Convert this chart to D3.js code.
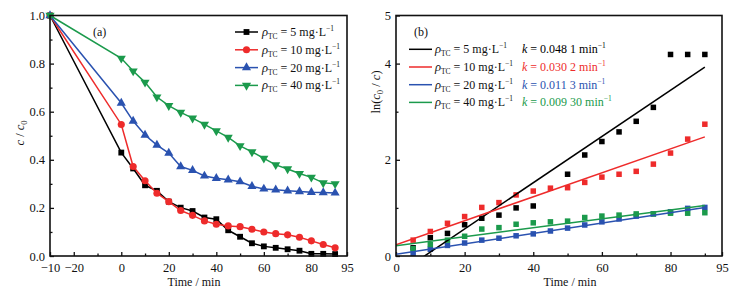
<!DOCTYPE html>
<html>
<head>
<meta charset="utf-8">
<script src="https://cdn.jsdelivr.net/npm/d3@7"></script>
<style>
  body { margin: 0; background: #fff; }
  svg text { font-family: 'Liberation Serif', 'Times New Roman', serif; fill: #111; }
</style>
</head>
<body>
<svg id="chart" width="750" height="294" font-family="Liberation Serif, serif"></svg>
<script>
// --- data ---
var concs = [5, 10, 20, 40];
var colors = ['#000000', '#ee2b2b', '#2a52b0', '#1b9a4c'];

// panel (a): c / c0 vs time, first point sits at the left edge of the axis
var timeA = [-30, 0, 5, 10, 15, 20, 25, 30, 35, 40, 45, 50, 55, 60, 65, 70, 75, 80, 85, 90];
var c5  = [1.0, 0.430, 0.364, 0.294, 0.271, 0.226, 0.201, 0.187, 0.160, 0.153, 0.107, 0.080, 0.053, 0.040, 0.034, 0.028, 0.022, 0.009, 0.009, 0.008];
var c10 = [1.0, 0.547, 0.372, 0.313, 0.261, 0.226, 0.189, 0.169, 0.146, 0.132, 0.125, 0.122, 0.111, 0.100, 0.093, 0.088, 0.078, 0.063, 0.048, 0.034];
var c20 = [1.0, 0.636, 0.561, 0.503, 0.461, 0.428, 0.372, 0.356, 0.333, 0.323, 0.317, 0.309, 0.290, 0.279, 0.275, 0.271, 0.268, 0.265, 0.264, 0.262];
var c40 = [1.0, 0.822, 0.769, 0.722, 0.661, 0.625, 0.597, 0.573, 0.547, 0.520, 0.493, 0.458, 0.433, 0.406, 0.379, 0.362, 0.343, 0.327, 0.304, 0.300];
var xTicksA = [-30, -20, 0, 20, 40, 60, 80, 95];
var xTickLabelsA = ['\u221210', '\u221220', '0', '20', '40', '60', '80', '95'];

// panel (b): ln(c0 / c) vs time
var timeB = [5, 10, 15, 20, 25, 30, 35, 40, 45, 50, 55, 60, 65, 70, 75, 80, 85, 90];
var ln5  = [0.17, 0.38, 0.47, 0.65, 0.785, 0.85, 1.00, 1.04, null, 1.70, 2.10, 2.38, 2.58, 2.80, 3.09, 4.19, 4.19, 4.19];
var ln10 = [0.33, 0.51, 0.68, 0.82, 1.01, 1.11, 1.27, 1.35, 1.41, 1.42, 1.53, 1.64, 1.70, 1.76, 1.91, 2.14, 2.43, 2.74];
var ln20 = [0.055, 0.14, 0.22, 0.27, 0.33, 0.37, 0.42, 0.46, 0.52, 0.58, 0.645, 0.71, 0.77, 0.83, 0.875, 0.92, 0.99, 1.01];
var ln40 = [0.15, 0.24, 0.33, 0.41, 0.56, 0.59, 0.66, 0.69, 0.71, 0.725, 0.80, 0.83, 0.85, 0.875, 0.875, 0.89, 0.89, 0.90];
var fitSlope = [0.0481, 0.0249, 0.0108, 0.0093];
var fitIntercept = [-0.40, 0.235, 0.035, 0.215];
var kLabels = ['0.048 1', '0.030 2', '0.011 3', '0.009 30'];
var xTicksB = [0, 20, 40, 60, 80, 95];
var yTicksB = [0, 2, 4, 5];

var seriesA = [c5, c10, c20, c40];
var seriesB = [ln5, ln10, ln20, ln40];

var serif = "'Liberation Serif', 'Times New Roman', serif";
var svg = d3.select('#chart');

var symbols = [
  {type: d3.symbolSquare, size: 34, rot: 0},
  {type: d3.symbolCircle, size: 40, rot: 0},
  {type: d3.symbolTriangle, size: 36, rot: 0},
  {type: d3.symbolTriangle, size: 36, rot: 180}
];

function frame(g, w, h) {
  g.append('rect')
    .attr('x', 0).attr('y', 0)
    .attr('width', w).attr('height', h)
    .attr('fill', 'none')
    .attr('stroke', '#111')
    .attr('stroke-width', 1.6);
}

function styleAxis(sel) {
  sel.attr('font-family', serif);
  sel.select('.domain').remove();
  sel.selectAll('.tick line').attr('stroke', '#111').attr('stroke-width', 1.3);
  sel.selectAll('.tick text')
    .style('font-family', serif)
    .style('font-size', '12.5px')
    .attr('fill', '#111');
}

function legendLabel(g, x, y, c) {
  var t = g.append('text').attr('x', x).attr('y', y).style('font-family', serif).style('font-size', '12px');
  t.append('tspan').style('font-style', 'italic').style('font-size', '12.5px').text('\u03c1');
  t.append('tspan').attr('dy', 3).style('font-size', '7.5px').text('TC');
  t.append('tspan').attr('dy', -3).text(' = ' + c + ' mg\u00b7L');
  t.append('tspan').attr('dy', -5).style('font-size', '7.5px').text('\u22121');
}

// ---------------- panel (a) ----------------
(function () {
  var left = 50, top = 15.5, w = 297, h = 240.5;
  var g = svg.append('g').attr('transform', 'translate(' + left + ',' + top + ')');

  var x = d3.scaleLinear().domain([-30, 95]).range([0, w]);
  var y = d3.scaleLinear().domain([0, 1]).range([h, 0]);

  var xAxis = d3.axisBottom(x)
    .tickValues(xTicksA)
    .tickFormat(function (d, i) { return xTickLabelsA[i]; })
    .tickSizeInner(-4).tickSizeOuter(0).tickPadding(7);
  g.append('g').attr('transform', 'translate(0,' + h + ')').call(xAxis).call(styleAxis);
  g.append('g').attr('transform', 'translate(0,' + h + ')')
    .call(d3.axisBottom(x).tickValues([-10, 10, 30, 50, 70, 90]).tickFormat('').tickSizeInner(-2.5).tickSizeOuter(0))
    .call(styleAxis);

  var yAxis = d3.axisLeft(y)
    .tickValues([0, 0.2, 0.4, 0.6, 0.8, 1.0])
    .tickFormat(d3.format('.1f'))
    .tickSizeInner(-4).tickSizeOuter(0).tickPadding(5);
  g.append('g').call(yAxis).call(styleAxis);
  g.append('g')
    .call(d3.axisLeft(y).tickValues([0.1, 0.3, 0.5, 0.7, 0.9]).tickFormat('').tickSizeInner(-2.5).tickSizeOuter(0))
    .call(styleAxis);

  var line = d3.line()
    .x(function (d) { return x(d[0]); })
    .y(function (d) { return y(d[1]); });

  seriesA.forEach(function (vals, i) {
    var pts = timeA.map(function (t, j) { return [t, vals[j]]; });
    g.append('path')
      .datum(pts)
      .attr('d', line)
      .attr('fill', 'none')
      .attr('stroke', colors[i])
      .attr('stroke-width', 1.5);
    g.selectAll('.m' + i)
      .data(pts)
      .enter().append('path')
      .attr('class', 'm' + i)
      .attr('transform', function (d) {
        return 'translate(' + x(d[0]) + ',' + y(d[1]) + ') rotate(' + symbols[i].rot + ')';
      })
      .attr('d', d3.symbol().type(symbols[i].type).size(symbols[i].size))
      .attr('fill', colors[i]);
  });

  frame(g, w, h);

  g.append('text').attr('x', 43).attr('y', 20).style('font-size', '12px').text('(a)');

  // legend
  concs.forEach(function (c, i) {
    var ly = 16.5 + i * 17.8;
    g.append('line')
      .attr('x1', 185).attr('x2', 208)
      .attr('y1', ly).attr('y2', ly)
      .attr('stroke', colors[i]).attr('stroke-width', 1.5);
    g.append('path')
      .attr('transform', 'translate(196.5,' + ly + ') rotate(' + symbols[i].rot + ')')
      .attr('d', d3.symbol().type(symbols[i].type).size(symbols[i].size))
      .attr('fill', colors[i]);
    legendLabel(g, 212, ly + 4, c);
  });

  svg.append('text')
    .attr('x', 194).attr('y', 286)
    .attr('text-anchor', 'middle')
    .style('font-size', '12px')
    .text('Time / min');

  var yt = svg.append('text')
    .attr('transform', 'translate(24,133) rotate(-90)')
    .attr('text-anchor', 'middle')
    .style('font-size', '12.5px');
  yt.append('tspan').style('font-style', 'italic').text('c');
  yt.append('tspan').text(' / ');
  yt.append('tspan').style('font-style', 'italic').text('c');
  yt.append('tspan').attr('dy', 3).style('font-size', '8.5px').text('0');
})();

// ---------------- panel (b) ----------------
(function () {
  var left = 396, top = 15.5, w = 326, h = 240.5;
  var g = svg.append('g').attr('transform', 'translate(' + left + ',' + top + ')');

  var x = d3.scaleLinear().domain([0, 95]).range([0, w]);
  var y = d3.scaleLinear().domain([0, 5]).range([h, 0]);

  g.append('defs').append('clipPath').attr('id', 'clipB')
    .append('rect').attr('width', w).attr('height', h);

  g.append('g').attr('transform', 'translate(0,' + h + ')')
    .call(d3.axisBottom(x).tickValues(xTicksB).tickFormat(d3.format('d')).tickSizeInner(-4).tickSizeOuter(0).tickPadding(7))
    .call(styleAxis);
  g.append('g').attr('transform', 'translate(0,' + h + ')')
    .call(d3.axisBottom(x).tickValues([10, 30, 50, 70, 90]).tickFormat('').tickSizeInner(-2.5).tickSizeOuter(0))
    .call(styleAxis);

  g.append('g')
    .call(d3.axisLeft(y).tickValues(yTicksB).tickFormat(d3.format('d')).tickSizeInner(-4).tickSizeOuter(0).tickPadding(5))
    .call(styleAxis);
  g.append('g')
    .call(d3.axisLeft(y).tickValues([1, 3]).tickFormat('').tickSizeInner(-2.5).tickSizeOuter(0))
    .call(styleAxis);

  var sq = 5.5;
  seriesB.forEach(function (vals, i) {
    var pts = timeB.map(function (t, j) { return [t, vals[j]]; })
      .filter(function (d) { return d[1] !== null; });
    g.selectAll('.s' + i)
      .data(pts)
      .enter().append('rect')
      .attr('class', 's' + i)
      .attr('x', function (d) { return x(d[0]) - sq / 2; })
      .attr('y', function (d) { return y(d[1]) - sq / 2; })
      .attr('width', sq).attr('height', sq)
      .attr('fill', colors[i]);
  });

  var fit = d3.line()
    .x(function (d) { return x(d[0]); })
    .y(function (d) { return y(d[1]); });

  concs.forEach(function (c, i) {
    var ends = [0, 90].map(function (t) { return [t, fitIntercept[i] + fitSlope[i] * t]; });
    g.append('path')
      .datum(ends)
      .attr('clip-path', 'url(#clipB)')
      .attr('d', fit)
      .attr('fill', 'none')
      .attr('stroke', colors[i])
      .attr('stroke-width', 1.5);
  });

  frame(g, w, h);

  g.append('text').attr('x', 18).attr('y', 20).style('font-size', '12px').text('(b)');

  concs.forEach(function (c, i) {
    var ly = 33.8 + i * 17.7;
    g.append('line')
      .attr('x1', 13).attr('x2', 36)
      .attr('y1', ly).attr('y2', ly)
      .attr('stroke', colors[i]).attr('stroke-width', 1.5);
    legendLabel(g, 39, ly + 4, c);
    var kt = g.append('text')
      .attr('x', 126).attr('y', ly + 4)
      .style('font-size', '12px');
    kt.append('tspan').style('font-style', 'italic').style('fill', colors[i]).text('k');
    kt.append('tspan').style('fill', colors[i]).text(' = ' + kLabels[i] + ' min');
    kt.append('tspan').attr('dy', -5).style('font-size', '7.5px').style('fill', colors[i]).text('\u22121');
  });

  svg.append('text')
    .attr('x', 570).attr('y', 286)
    .attr('text-anchor', 'middle')
    .style('font-size', '12px')
    .text('Time / min');

  var yt = svg.append('text')
    .attr('transform', 'translate(380,92) rotate(-90)')
    .attr('text-anchor', 'middle')
    .style('font-size', '12.5px');
  yt.append('tspan').text('ln(');
  yt.append('tspan').style('font-style', 'italic').text('c');
  yt.append('tspan').attr('dy', 3).style('font-size', '8.5px').text('0');
  yt.append('tspan').attr('dy', -3).text(' / ');
  yt.append('tspan').style('font-style', 'italic').text('c');
  yt.append('tspan').text(')');
})();
</script>
</body>
</html>
